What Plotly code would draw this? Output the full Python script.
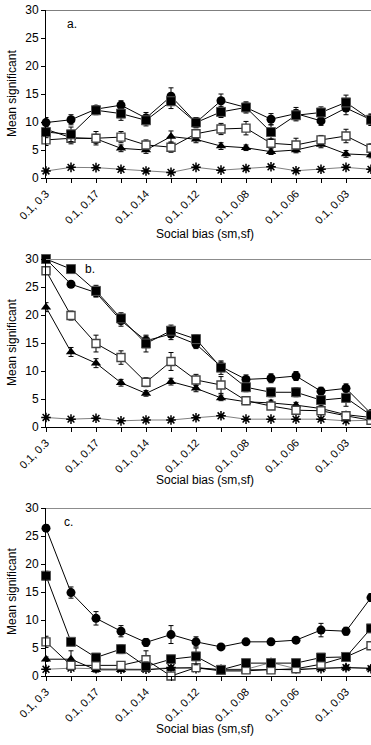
import plotly.graph_objects as go

# ---------------- data ----------------
categories = ["0.1, 0.3", "0.1, 0.2", "0.1, 0.17", "0.1, 0.15", "0.1, 0.14", "0.1, 0.13",
              "0.1, 0.12", "0.1, 0.1", "0.1, 0.08", "0.1, 0.07", "0.1, 0.06", "0.1, 0.04",
              "0.1, 0.03", "0.1, 0.01"]
tick_labels = ["0.1, 0.3", "", "0.1, 0.17", "", "0.1, 0.14", "", "0.1, 0.12", "",
               "0.1, 0.08", "", "0.1, 0.06", "", "0.1, 0.03", ""]
y_ticks = [0, 5, 10, 15, 20, 25, 30]
panel_labels = ["a.", "b.", "c."]
x_title = "Social bias (sm,sf)"
y_title = "Mean significant"

# panel a
a_circle = [9.9, 10.4, 12.3, 13.0, 10.7, 14.6, 9.9, 13.8, 12.6, 10.5, 11.5, 10.2, 12.5, 10.4]
a_circle_err = [0.9, 0.9, 0.6, 0.8, 1.0, 1.5, 0.8, 1.2, 0.8, 1.0, 1.1, 0.8, 1.2, 1.0]
a_square = [8.2, 7.8, 12.1, 11.5, 10.3, 13.7, 9.9, 11.8, 12.6, 8.2, 11.2, 11.7, 13.5, 10.4]
a_square_err = [1.0, 1.3, 0.8, 1.2, 1.0, 1.3, 0.9, 1.0, 1.0, 1.3, 1.0, 1.0, 1.3, 1.0]
a_open = [6.8, 7.1, 7.1, 7.3, 5.9, 5.5, 7.9, 8.75, 8.9, 6.2, 5.9, 6.8, 7.5, 5.3]
a_open_err = [1.0, 1.0, 1.2, 1.0, 0.9, 0.9, 0.8, 1.0, 1.2, 0.8, 1.2, 0.8, 1.2, 0.8]
a_tri = [8.7, 7.2, 7.0, 5.3, 5.0, 7.4, 6.9, 5.7, 5.4, 4.7, 5.0, 6.0, 4.3, 4.1]
a_tri_err = [0.8, 0.8, 0.8, 0.6, 0.6, 1.0, 0.6, 0.6, 0.5, 0.5, 0.5, 0.6, 0.6, 0.5]
a_star = [1.25, 1.9, 1.85, 1.55, 1.25, 1.0, 1.9, 1.4, 1.7, 2.0, 1.3, 1.55, 1.9, 1.55]
a_star_err = [0.2] * 14

# panel b
b_circle = [30.0, 25.5, 24.0, 19.0, 15.4, 16.6, 14.8, 10.8, 8.5, 8.7, 9.1, 6.4, 6.9, 2.4]
b_circle_err = [0.3, 0.5, 0.8, 1.0, 0.8, 1.0, 0.8, 0.8, 0.8, 0.8, 0.8, 0.7, 0.8, 0.5]
b_square = [30.0, 28.2, 24.3, 19.4, 14.9, 17.2, 15.7, 10.6, 7.1, 6.2, 6.2, 4.8, 5.2, 2.1]
b_square_err = [0.3, 0.3, 1.0, 1.0, 1.5, 1.0, 0.8, 1.2, 0.8, 0.8, 0.8, 0.7, 1.5, 0.5]
b_open = [27.9, 19.9, 14.9, 12.4, 8.0, 11.7, 8.4, 7.5, 4.7, 3.75, 3.0, 2.9, 2.0, 1.2]
b_open_err = [0.3, 0.8, 1.5, 1.2, 0.8, 1.6, 1.0, 1.5, 0.6, 0.6, 0.6, 0.6, 0.6, 0.4]
b_tri = [21.4, 13.4, 11.4, 7.9, 6.0, 8.1, 6.9, 5.2, 4.5, 4.3, 3.9, 3.3, 2.2, 1.7]
b_tri_err = [0.8, 0.8, 0.8, 0.6, 0.5, 0.6, 0.6, 0.5, 0.5, 0.5, 0.5, 0.5, 0.5, 0.4]
b_star = [1.7, 1.4, 1.55, 1.1, 1.25, 1.25, 1.65, 2.0, 1.4, 1.4, 1.4, 1.4, 1.1, 1.2]
b_star_err = [0.2] * 14

# panel c
c_circle = [26.4, 14.9, 10.3, 8.0, 6.0, 7.4, 6.1, 5.2, 6.1, 6.1, 6.4, 8.2, 8.0, 14.0]
c_circle_err = [0.6, 1.0, 1.2, 1.0, 0.7, 1.6, 0.9, 0.4, 0.4, 0.5, 0.4, 1.2, 0.7, 0.7]
c_square = [17.9, 6.1, 3.3, 4.8, 1.7, 3.0, 3.5, 1.1, 2.3, 2.3, 2.3, 3.3, 3.4, 8.5]
c_square_err = [0.8, 0.6, 0.4, 0.8, 0.8, 0.6, 1.5, 0.5, 0.5, 0.5, 0.5, 0.5, 0.6, 0.6]
c_open = [6.1, 1.9, 1.9, 1.9, 2.9, 0.0, 1.5, 1.1, 1.1, 1.1, 1.3, 2.1, 3.4, 5.4]
c_open_err = [1.0, 0.6, 0.6, 0.4, 1.6, 0.3, 0.5, 0.4, 0.4, 0.4, 0.6, 0.8, 0.5, 0.4]
c_tri = [3.0, 3.0, 1.1, 1.1, 1.1, 1.4, 1.5, 0.9, 0.9, 1.2, 1.1, 1.4, 1.5, 1.4]
c_tri_err = [0.4, 1.5, 0.4, 0.3, 0.3, 0.4, 0.3, 0.3, 0.3, 0.3, 0.3, 0.3, 0.4, 0.3]
c_star = [1.2, 1.4, 1.3, 1.2, 1.2, 1.5, 1.3, 1.2, 1.2, 2.4, 1.3, 1.3, 1.5, 1.3]
c_star_err = [0.3] * 14

panels = [
    (a_circle, a_circle_err, a_square, a_square_err, a_open, a_open_err, a_tri, a_tri_err, a_star, a_star_err),
    (b_circle, b_circle_err, b_square, b_square_err, b_open, b_open_err, b_tri, b_tri_err, b_star, b_star_err),
    (c_circle, c_circle_err, c_square, c_square_err, c_open, c_open_err, c_tri, c_tri_err, c_star, c_star_err),
]

# ---------------- layout geometry (pixels) ----------------
W, H = 371, 745
plot_left = 46
panel_px = [(10, 178), (259, 427), (508, 676)]  # (top y of 30, bottom y of 0)
FONT = "Liberation Sans, Arial, sans-serif"


def fy(py):
    return (H - py) / H


fig = go.Figure()

for i, (circ, circ_e, sq, sq_e, op, op_e, tri, tri_e, st, st_e) in enumerate(panels):
    xa = "x" if i == 0 else f"x{i+1}"
    ya = "y" if i == 0 else f"y{i+1}"
    eb = lambda arr: dict(type="data", array=arr, visible=True, color="black", thickness=1, width=2.5)

    fig.add_trace(go.Scatter(x=categories, y=st, error_y=eb(st_e), mode="lines+markers",
                             line=dict(color="#808080", width=1),
                             marker=dict(symbol="asterisk-open", size=8, color="black",
                                         line=dict(color="black", width=1.5)),
                             xaxis=xa, yaxis=ya, cliponaxis=False, showlegend=False))
    fig.add_trace(go.Scatter(x=categories, y=tri, error_y=eb(tri_e), mode="lines+markers",
                             line=dict(color="black", width=1),
                             marker=dict(symbol="triangle-up", size=9, color="black"),
                             xaxis=xa, yaxis=ya, cliponaxis=False, showlegend=False))
    fig.add_trace(go.Scatter(x=categories, y=op, error_y=eb(op_e), mode="lines+markers",
                             line=dict(color="black", width=1),
                             marker=dict(symbol="square", size=8, color="white", line=dict(color="#444444", width=1.4)),
                             xaxis=xa, yaxis=ya, cliponaxis=False, showlegend=False))
    fig.add_trace(go.Scatter(x=categories, y=circ, error_y=eb(circ_e), mode="lines+markers",
                             line=dict(color="black", width=1),
                             marker=dict(symbol="circle", size=9, color="black"),
                             xaxis=xa, yaxis=ya, cliponaxis=False, showlegend=False))
    fig.add_trace(go.Scatter(x=categories, y=sq, error_y=eb(sq_e), mode="lines+markers",
                             line=dict(color="black", width=1),
                             marker=dict(symbol="square", size=9, color="black", line=dict(color="#555555", width=1)),
                             xaxis=xa, yaxis=ya, cliponaxis=False, showlegend=False))

    top, bot = panel_px[i]
    xkey = "xaxis" if i == 0 else f"xaxis{i+1}"
    ykey = "yaxis" if i == 0 else f"yaxis{i+1}"
    fig.update_layout(**{
        xkey: dict(domain=[plot_left / W, 1.0], anchor=ya, type="category", automargin=False,
                   categoryorder="array", categoryarray=categories,
                   range=[0, len(categories) - 1], tickmode="array",
                   tickvals=categories, ticktext=tick_labels, tickangle=-45,
                   ticks="outside", ticklen=4, tickcolor="black", tickwidth=1,
                   showline=True, linecolor="black", linewidth=1, showgrid=False,
                   zeroline=False, tickfont=dict(family=FONT, size=11, color="black")),
        ykey: dict(domain=[fy(bot), fy(top)], anchor=xa, range=[0, 30], automargin=False,
                   tickvals=y_ticks, ticks="outside", ticklen=4, tickcolor="black",
                   showline=True, linecolor="black", linewidth=1, showgrid=False,
                   zeroline=False, tickfont=dict(family=FONT, size=12, color="black")),
    })
    # top border line at y=30
    fig.add_shape(type="line", xref=f"{xa} domain", yref=ya, x0=0, x1=1, y0=30, y1=30,
                  line=dict(color="black" if i == 0 else "#8c8c8c", width=1 if i == 0 else 2))

# annotations: panel labels and axis titles
label_pos = [(72, 24), (90, 269), (68, 522)]
xtitle_py = [234, 480, 729]
for i in range(3):
    lx, ly = label_pos[i]
    fig.add_annotation(text=panel_labels[i], x=lx / W, y=fy(ly), xref="paper", yref="paper",
                       xanchor="center", yanchor="middle",
                       showarrow=False, font=dict(family=FONT, size=12, color="black"))
    fig.add_annotation(text=x_title, x=205 / W, y=fy(xtitle_py[i]), xref="paper", yref="paper",
                       xanchor="center", yanchor="middle",
                       showarrow=False, font=dict(family=FONT, size=12, color="black"))
    top, bot = panel_px[i]
    fig.add_annotation(text=y_title, x=12 / W, y=fy((top + bot) / 2), xref="paper", yref="paper",
                       xanchor="center", yanchor="middle",
                       showarrow=False, textangle=-90, font=dict(family=FONT, size=12, color="black"))

fig.update_layout(width=W, height=H, margin=dict(l=0, r=0, t=0, b=0),
                  paper_bgcolor="white", plot_bgcolor="white", showlegend=False)

fig.write_html("out.html", config={"displayModeBar": False},
               post_script="document.body.style.margin='0';document.body.style.overflow='hidden';")
